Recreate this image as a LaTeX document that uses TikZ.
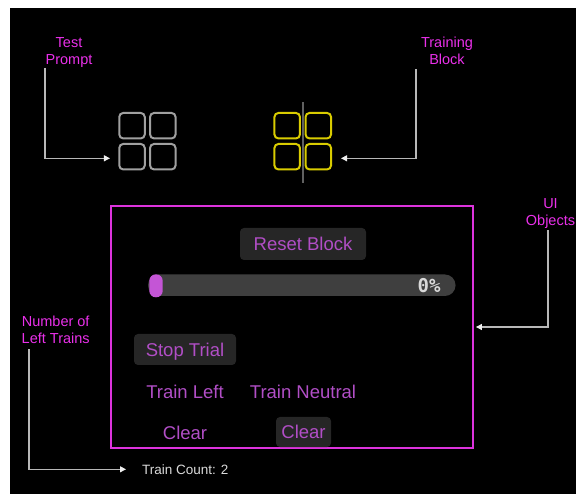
\documentclass[tikz,border=0pt]{standalone}
\usepackage{fontspec}
\setmainfont{Liberation Sans}
\setmonofont{DejaVu Sans Mono}
\usetikzlibrary{arrows.meta}
\definecolor{labelpink}{HTML}{EA30EA}
\definecolor{boxpink}{HTML}{DD33DD}
\definecolor{uitext}{HTML}{B14EC6}
\definecolor{knob}{HTML}{C455D6}
\definecolor{btnfill}{HTML}{262626}
\definecolor{track}{HTML}{3F3F3F}
\definecolor{cellgray}{HTML}{A0A0A0}
\definecolor{cellyellow}{HTML}{D9CC00}
\definecolor{divider}{HTML}{606060}
\definecolor{wire}{HTML}{B8B8B8}
\definecolor{tipwhite}{HTML}{EEEEEE}
\definecolor{counttext}{HTML}{DADADA}

\begin{document}
\begin{tikzpicture}[x=1pt, y=-1pt,
  note/.style={text=labelpink, align=center, inner sep=0, font=\fontsize{14.5}{17}\selectfont},
  cell/.style={draw, rounded corners=4pt, minimum size=25.5pt, line width=2pt, inner sep=0},
  btn/.style={fill=btnfill, rounded corners=4pt, text=uitext, inner sep=0, text depth=0pt, font=\fontsize{18.5}{22}\selectfont},
  uilabel/.style={text=uitext, inner sep=0, text depth=0pt, font=\fontsize{18.5}{22}\selectfont},
  conn/.style={draw=wire, line width=1.1pt, -{Triangle[length=6pt,width=6pt,color=tipwhite]}}]

\useasboundingbox (0,0) rectangle (576,494);
\fill[white] (0,0) rectangle (576,494);
\fill[black] (10,8) rectangle (576,494);

\node[note] (tplbl) at (69,52.7) {Test\\Prompt};
\node[note] (tblbl) at (447,51.2) {Training\\Block};
\node[note] (uilbl) at (550.5,213.3) {UI\\Objects};
\node[note] (nltlbl) at (55.7,330.3) {Number of\\Left Trains};

\foreach \i/\x/\y in {1/132/125.7, 2/162.8/125.7, 3/132/156.7, 4/162.8/156.7}
  \node[cell, draw=cellgray] (tp\i) at (\x,\y) {};
\foreach \i/\x/\y in {1/287.2/125.7, 2/318.3/125.7, 3/287.2/156.7, 4/318.3/156.7}
  \node[cell, draw=cellyellow] (tb\i) at (\x,\y) {};
\node[fill=divider, inner sep=0, minimum width=2pt, minimum height=81pt] (tbdiv) at (302.7,142.2) {};

\node[draw=boxpink, line width=2.5pt, inner sep=0, minimum width=362pt, minimum height=242pt] (uibox) at (292,327) {};

\node[btn, minimum width=126pt, minimum height=32pt] (reset) at (303,244) {Reset Block};
\node[fill=track, rounded corners=10.5pt, inner sep=0, minimum width=307.5pt, minimum height=21.5pt] (bar) at (301.75,285.25) {};
\node[fill=knob, rounded corners=6.5pt, inner sep=0, minimum width=13.4pt, minimum height=23pt] (barknob) at (156,285.8) {};
\node[text=counttext, inner sep=0, font=\ttfamily\bfseries\fontsize{19}{19}\selectfont] (pct) at (429,285.3) {0\%};
\node[btn, minimum width=102pt, minimum height=31pt] (stop) at (185,349.5) {Stop Trial};
\node[uilabel] (trainleft) at (185,392) {Train Left};
\node[uilabel] (trainneutral) at (303,392) {Train Neutral};
\node[uilabel] (clearleft) at (185,432.7) {Clear};
\node[btn, minimum width=55pt, minimum height=30pt] (clearneutral) at (303.5,432) {Clear};

\node[text=counttext, inner sep=0, text depth=0pt, anchor=west, font=\fontsize{13.5}{16}\selectfont] (tc) at (142,469.3) {Train Count: 2};

\coordinate (tpbend) at (45,158.3);
\coordinate (tbbend) at (416,158.3);
\coordinate (uibend) at (548,327);
\coordinate (nltbend) at (29,469.3);

\draw[conn, shorten >=8.3pt] (tplbl.south -| tpbend) -- (tpbend) -- (tp3.west |- tpbend);
\draw[conn, shorten <=4pt, shorten >=9pt] (tblbl.south -| tbbend) -- (tbbend) -- (tb4.east |- tbbend);
\draw[conn, shorten <=1.5pt, shorten >=1.7pt] (uilbl.south -| uibend) -- (uibend) -- (uibox.east |- uibend);
\draw[conn, shorten <=5pt, shorten >=16pt] (nltlbl.south -| nltbend) -- (nltbend) -- (tc.west |- nltbend);

\end{tikzpicture}
\end{document}
